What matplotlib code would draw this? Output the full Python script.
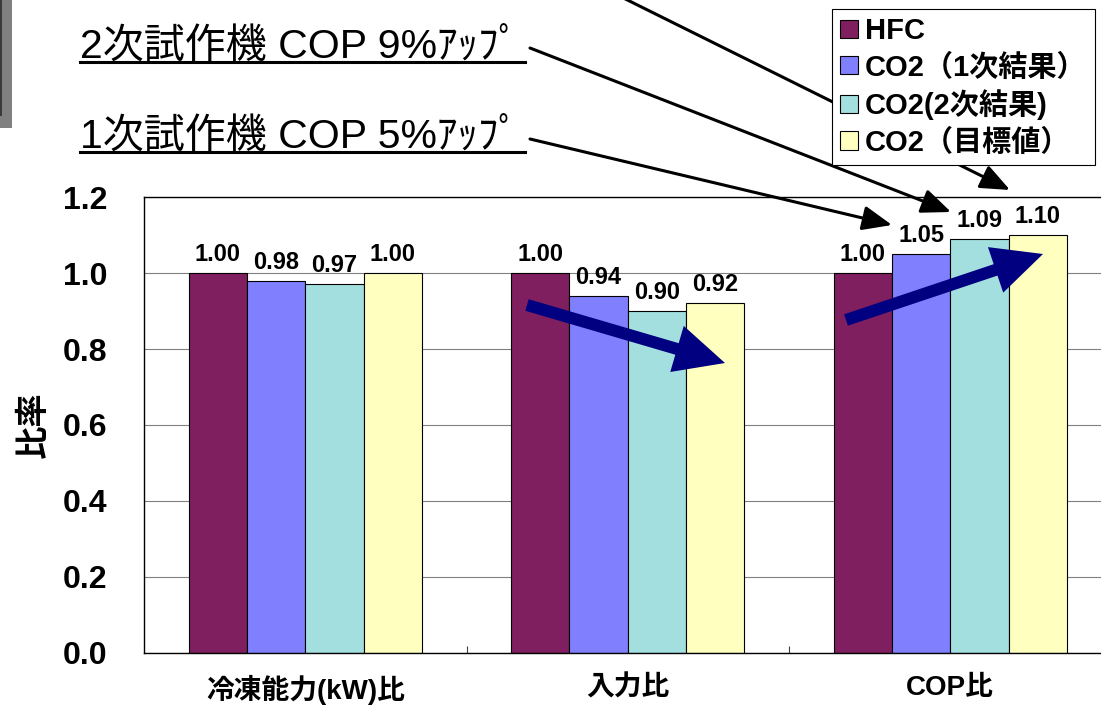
import numpy as np
import matplotlib
matplotlib.use("Agg")
import matplotlib.pyplot as plt
from matplotlib.patches import Patch, Rectangle
from matplotlib.lines import Line2D

plt.rcParams['font.family'] = ['Liberation Sans', 'Noto Sans CJK JP']
plt.rcParams['font.weight'] = 'bold'

# data
categories = ['冷凍能力(kW)比', '入力比', 'COP比']
series_names = ['HFC', 'CO2（1次結果）', 'CO2(2次結果)', 'CO2（目標値）']
hfc = [1.00, 1.00, 1.00]
co2_first = [0.98, 0.94, 1.05]
co2_second = [0.97, 0.90, 1.09]
co2_target = [1.00, 0.92, 1.10]
yticks = [0.0, 0.2, 0.4, 0.6, 0.8, 1.0, 1.2]
notes = ['2次試作機 COP 9%ｱｯﾌﾟ', '1次試作機 COP 5%ｱｯﾌﾟ']

colors = ['#801F5F', '#8080FF', '#A4DFDF', '#FFFFC0']
series = [hfc, co2_first, co2_second, co2_target]

W, H = 1101, 708
fig = plt.figure(figsize=(W / 100, H / 100), dpi=100)
ax = fig.add_axes([144 / W, 55 / H, 967.5 / W, 456 / H])


def px(x, y):
    # pixel position measured from the top-left corner -> figure pixels
    return (x, H - y)


x = np.arange(len(categories))
width = 0.181
for i, (vals, name, c) in enumerate(zip(series, series_names, colors)):
    pos = x + (i - 1.5) * width
    ax.bar(pos, vals, width, color=c, edgecolor='black', linewidth=0.8, label=name)
    for xp, v in zip(pos, vals):
        ax.annotate(f'{v:.2f}', (xp, v), xytext=(0, 5), textcoords='offset points',
                    ha='center', va='bottom', fontsize=17)

ax.set_xlim(-0.5, 2.5)
ax.set_ylim(0, 1.2)
ax.set_xticks(x)
ax.set_xticklabels(categories, fontsize=20)
ax.set_xticks([0.5, 1.5, 2.5], minor=True)
ax.tick_params(axis='x', which='major', length=0, pad=16)
ax.tick_params(axis='x', which='minor', direction='in', length=5, width=0.8, color='#404040')
ax.set_yticks(yticks)
ax.set_yticklabels([f'{t:.1f}' for t in yticks], fontsize=23)
ax.tick_params(axis='y', length=0, pad=26.5)
ax.yaxis.grid(True, color='#808080', linewidth=0.8)
ax.set_axisbelow(True)
for s in ax.spines.values():
    s.set_color('black')
    s.set_linewidth(1.0)

ax.set_ylabel('比率', fontsize=24, fontweight='bold')
ax.yaxis.set_label_coords((50 - 144) / 967.5, 0.5)

# underlined notes at the top left
for txt, yb in zip(notes, [58, 148]):
    fig.text(80 / W, 1 - yb / H, txt, fontsize=29.5, fontweight='normal',
             ha='left', va='baseline')
    fig.add_artist(Line2D([80 / W, 525 / W], [1 - (yb + 4) / H] * 2, color='black', lw=2.2))


def arrow(p0, p1, **props):
    props.setdefault('shrinkA', 0)
    props.setdefault('shrinkB', 0)
    ax.annotate('', xy=px(*p1), xytext=px(*p0), xycoords='figure pixels',
                textcoords='figure pixels', annotation_clip=False, arrowprops=props)


black_head = '-|>,head_length=1.8,head_width=0.75'
arrow((530, 139), (892, 225), arrowstyle=black_head, mutation_scale=10, color='black', lw=2.2)
arrow((530, 48), (951, 212), arrowstyle=black_head, mutation_scale=10, color='black', lw=2.2)
arrow((567, -30), (1010, 190), arrowstyle=black_head, mutation_scale=10, color='black', lw=2.2)

navy = 'simple,head_length=1.0,head_width=0.96,tail_width=0.24'
arrow((527, 305), (725, 363), arrowstyle=navy, mutation_scale=36, color='#000080', lw=0)
arrow((846, 320), (1043, 254), arrowstyle=navy, mutation_scale=36, color='#000080', lw=0)

handles = [Patch(facecolor=c, edgecolor='black', linewidth=0.8) for c in colors]
leg = fig.legend(handles, series_names, loc='upper left', bbox_to_anchor=(832 / W, 1 - 9 / H),
                 borderaxespad=0, fontsize=21, frameon=True, fancybox=False, edgecolor='black',
                 framealpha=1, handlelength=0.6, handleheight=0.6, handletextpad=0.25,
                 labelspacing=0.28, borderpad=0.28)
leg.get_frame().set_linewidth(0.8)
leg.set_zorder(10)

# grey tab on the left edge
fig.add_artist(Rectangle((0, 1 - 128 / H), 12 / W, 128 / H, transform=fig.transFigure,
                         facecolor='#808080', edgecolor='none'))
fig.add_artist(Rectangle((0, 1 - 116 / H), 2 / W, 116 / H, transform=fig.transFigure,
                         facecolor='#3a3a3a', edgecolor='none'))

fig.savefig('out.png', dpi=100)
